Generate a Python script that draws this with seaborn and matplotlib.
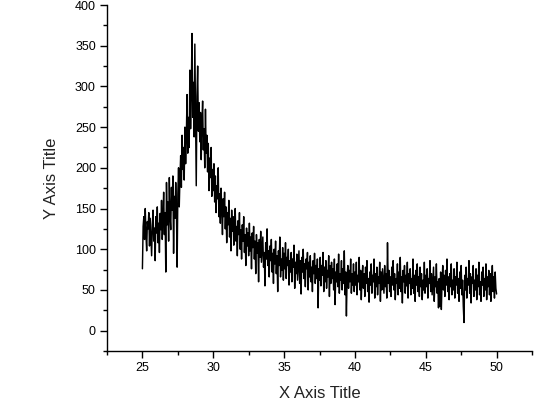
import numpy as np
import pandas as pd
import matplotlib
matplotlib.use("Agg")
import matplotlib.pyplot as plt
from matplotlib.ticker import MultipleLocator
import seaborn as sns

# Sampling grid (2-theta, degrees)
x_start = 25.0
x_step = 0.05

# Intensity readings, split by x range (each 2.5 degrees, 50 samples)
intensity_250_275 = [76, 128, 140, 112, 150, 118, 98, 134, 125, 145,
                     104, 138, 116, 92, 130, 148, 110, 126, 86, 140,
                     120, 152, 108, 132, 96, 144, 124, 160, 112, 138,
                     170, 118, 145, 72, 182, 130, 158, 110, 188, 140,
                     124, 176, 148, 190, 95, 165, 138, 182, 150, 78]
intensity_275_300 = [168, 200, 152, 188, 215, 176, 240, 198, 225, 185,
                     250, 205, 238, 290, 218, 262, 225, 320, 248, 295,
                     365, 262, 305, 238, 352, 270, 178, 288, 325, 245,
                     280, 232, 268, 210, 255, 282, 222, 248, 200, 272,
                     218, 240, 195, 230, 172, 212, 188, 225, 165, 198]
intensity_300_325 = [172, 205, 158, 190, 145, 178, 162, 200, 140, 168,
                     132, 175, 150, 118, 162, 140, 170, 125, 152, 108,
                     145, 130, 160, 115, 138, 98, 148, 122, 140, 105,
                     132, 150, 110, 128, 92, 135, 118, 145, 100, 124,
                     88, 130, 110, 140, 96, 118, 80, 126, 104, 120]
intensity_325_350 = [92, 132, 98, 115, 76, 120, 102, 128, 88, 110,
                     70, 118, 95, 108, 60, 112, 90, 122, 84, 100,
                     115, 78, 96, 55, 108, 88, 125, 80, 98, 66,
                     104, 86, 112, 72, 95, 58, 100, 82, 110, 70,
                     92, 48, 98, 80, 115, 66, 88, 74, 102, 62]
intensity_350_375 = [95, 76, 108, 64, 90, 80, 100, 56, 86, 72,
                     96, 60, 88, 78, 105, 52, 84, 70, 94, 62,
                     80, 98, 58, 86, 45, 90, 72, 100, 64, 82,
                     54, 88, 76, 96, 50, 84, 66, 92, 60, 78,
                     48, 86, 70, 95, 58, 80, 64, 88, 28, 76]
intensity_375_400 = [62, 90, 55, 80, 68, 96, 48, 78, 60, 86,
                     52, 74, 66, 92, 42, 80, 58, 84, 64, 76,
                     50, 88, 32, 72, 60, 82, 54, 94, 46, 70,
                     62, 86, 50, 76, 58, 98, 44, 72, 18, 66,
                     80, 52, 74, 60, 88, 46, 70, 56, 82, 48]
intensity_400_425 = [72, 56, 84, 44, 68, 60, 90, 50, 74, 38,
                     66, 80, 52, 70, 42, 78, 58, 86, 48, 64,
                     35, 72, 56, 82, 46, 68, 60, 88, 40, 70,
                     54, 78, 44, 66, 58, 84, 36, 72, 50, 76,
                     62, 46, 80, 54, 70, 40, 108, 58, 74, 48]
intensity_425_450 = [66, 42, 78, 56, 86, 50, 70, 38, 64, 58,
                     82, 44, 72, 52, 90, 48, 66, 34, 74, 60,
                     80, 46, 68, 55, 84, 40, 70, 58, 76, 44,
                     64, 52, 88, 46, 68, 36, 74, 56, 82, 48,
                     66, 42, 78, 54, 70, 38, 62, 50, 84, 46]
intensity_450_475 = [68, 54, 76, 40, 64, 58, 86, 48, 70, 44,
                     62, 78, 36, 66, 54, 82, 46, 60, 28, 64,
                     30, 72, 26, 58, 80, 50, 68, 42, 74, 56,
                     88, 48, 66, 38, 70, 54, 82, 44, 62, 50,
                     76, 40, 66, 56, 84, 46, 64, 36, 72, 52]
intensity_475_500 = [80, 44, 62, 30, 10, 68, 50, 78, 40, 64,
                     56, 86, 46, 70, 34, 66, 58, 80, 42, 62,
                     50, 76, 38, 68, 54, 84, 44, 60, 36, 72,
                     56, 78, 42, 64, 50, 82, 38, 66, 54, 74,
                     44, 70, 36, 62, 80, 48, 66, 40, 72, 52,
                     45]

x_label = "X Axis Title"
y_label = "Y Axis Title"

intensity = np.array(intensity_250_275 + intensity_275_300 + intensity_300_325
                     + intensity_325_350 + intensity_350_375 + intensity_375_400
                     + intensity_400_425 + intensity_425_450 + intensity_450_475
                     + intensity_475_500, dtype=float)
two_theta = np.round(x_start + x_step * np.arange(len(intensity)), 3)
df = pd.DataFrame({"x": two_theta, "y": intensity})

sns.set_style("ticks")
plt.rcParams["font.family"] = ["Liberation Sans", "DejaVu Sans"]

fig = plt.figure(figsize=(5.45, 4.11), dpi=100)
ax = fig.add_axes([107 / 545, 1 - 351 / 411, 425 / 545, 346 / 411])

sns.lineplot(data=df, x="x", y="y", ax=ax, color="black", linewidth=1.05,
             errorbar=None, sort=False)

ax.set_xlim(22.5, 52.5)
ax.set_ylim(-25, 400)
ax.xaxis.set_major_locator(MultipleLocator(5))
ax.xaxis.set_minor_locator(MultipleLocator(2.5))
ax.yaxis.set_major_locator(MultipleLocator(50))
ax.yaxis.set_minor_locator(MultipleLocator(25))
ax.set_xticks([25, 30, 35, 40, 45, 50])

for s in ["top", "right"]:
    ax.spines[s].set_visible(False)
for s in ["left", "bottom"]:
    ax.spines[s].set_linewidth(1.0)
    ax.spines[s].set_color("black")

ax.tick_params(which="major", direction="out", length=5, width=1.0,
               labelsize=9, colors="black", pad=3)
ax.tick_params(which="minor", direction="out", length=3, width=1.0,
               colors="black")

ax.set_xlabel(x_label, fontsize=12, color="#222222")
ax.set_ylabel(y_label, fontsize=12, color="#222222")
ax.xaxis.set_label_coords(0.5, -0.10)
ax.yaxis.set_label_coords(-0.112, 0.5)

fig.savefig("out.png", dpi=100)
